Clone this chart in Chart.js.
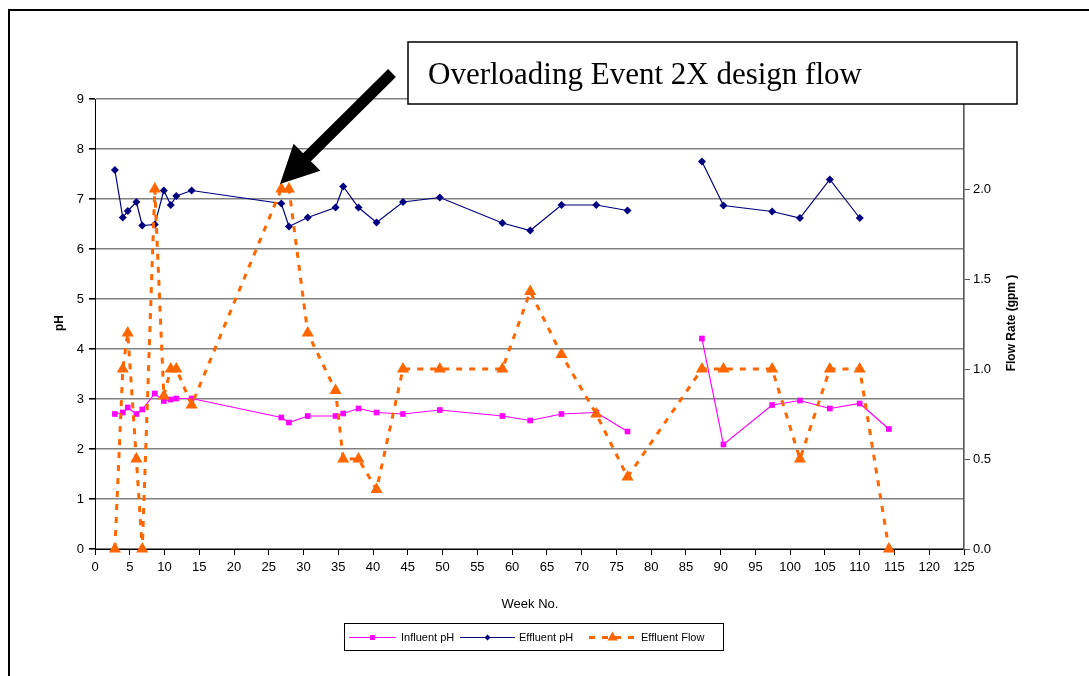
<!DOCTYPE html>
<html>
<head>
<meta charset="utf-8">
<script src="https://cdn.jsdelivr.net/npm/chart.js@4.4.1/dist/chart.umd.min.js"></script>
<style>
  html, body { margin: 0; padding: 0; background: #fff; }
  #wrap { position: relative; width: 1089px; height: 676px; overflow: hidden; }
  #frame { position: absolute; left: 8px; top: 9px; width: 1200px; height: 800px; border: 2px solid #000; box-sizing: border-box; }
  canvas { position: absolute; left: 0; top: 0; }
</style>
</head>
<body>
<div id="wrap">
  <div id="frame"></div>
  <canvas id="c" width="1089" height="676"></canvas>
</div>
<script>
// Sampling weeks shared by all three series (null = no reading that week)
const weeks = [2.86, 4.0, 4.71, 5.95, 6.8, 8.6, 9.9, 10.9, 11.7, 13.9,
  26.8, 27.9, 30.6, 34.6, 35.7, 37.9, 40.5, 44.3, 49.6, 58.6,
  62.6, 67.1, 72.1, 76.6, 82.0, 87.3, 90.4, 97.4, 101.4, 105.7, 110.0, 114.2];

const influentPH = [2.70, 2.73, 2.83, 2.70, 2.79, 3.11, 2.96, 2.99, 3.01, 3.01,
  2.63, 2.53, 2.66, 2.66, 2.71, 2.81, 2.73, 2.70, 2.78, 2.66,
  2.57, 2.70, 2.73, 2.35, null, 4.21, 2.09, 2.88, 2.97, 2.81, 2.91, 2.40];

const effluentPH = [7.58, 6.63, 6.76, 6.94, 6.47, 6.49, 7.17, 6.88, 7.06, 7.17,
  6.91, 6.45, 6.63, 6.83, 7.25, 6.83, 6.53, 6.94, 7.03, 6.52,
  6.37, 6.88, 6.88, 6.77, null, 7.75, 6.87, 6.75, 6.62, 7.39, 6.62, null];

const effluentFlow = [0, 1.0, 1.2, 0.5, 0, 2.0, 0.85, 1.0, 1.0, 0.8,
  2.0, 2.0, 1.2, 0.88, 0.5, 0.5, 0.33, 1.0, 1.0, 1.0,
  1.43, 1.08, 0.75, 0.4, null, 1.0, 1.0, 1.0, 0.5, 1.0, 1.0, 0];

const seriesNames = ['Influent pH', 'Effluent pH', 'Effluent Flow'];
const xTicks = { min: 0, max: 125, step: 5 };
const phTicks = { min: 0, max: 9, step: 1 };
const flowTicks = { min: 0, max: 2.5, step: 0.5 };
const noteText = 'Overloading Event 2X design flow';

const PINK = '#FF00FF', NAVY = '#000080', ORANGE = '#FF6600';
const SANS = '"Liberation Sans", Arial, sans-serif';

const toPoints = vals => weeks.map((w, i) => ({ x: w, y: vals[i] }));

// Axis titles, legend box and the callout with its arrow
const decorations = {
  id: 'decorations',
  afterDraw(chart) {
    const ctx = chart.ctx;
    ctx.save();
    ctx.fillStyle = '#000';
    // axis titles
    ctx.font = 'bold 12px ' + SANS;
    ctx.textAlign = 'center';
    ctx.textBaseline = 'middle';
    ctx.save(); ctx.translate(60, 323); ctx.rotate(-Math.PI / 2); ctx.fillText('pH', 0, 0); ctx.restore();
    ctx.save(); ctx.translate(1012, 323); ctx.rotate(-Math.PI / 2); ctx.fillText('Flow Rate (gpm )', 0, 0); ctx.restore();
    ctx.font = '13px ' + SANS;
    ctx.fillText('Week No.', 530, 604);

    // legend
    const lx = 344, ly = 623, lw = 379, lh = 27;
    ctx.lineWidth = 1;
    ctx.strokeStyle = '#000';
    ctx.strokeRect(lx + 0.5, ly + 0.5, lw, lh);
    const cy = ly + lh / 2 + 1;
    ctx.font = '11px ' + SANS;
    ctx.textAlign = 'left';
    const items = [
      { x0: 349, x1: 396, tx: 401, color: PINK, dash: [], lw: 1, marker: 'rect' },
      { x0: 460, x1: 515, tx: 519, color: NAVY, dash: [], lw: 1, marker: 'diamond' },
      { x0: 589, x1: 636, tx: 641, color: ORANGE, dash: [6, 7], lw: 3, marker: 'tri' }
    ];
    items.forEach((it, i) => {
      ctx.strokeStyle = it.color;
      ctx.lineWidth = it.lw;
      ctx.setLineDash(it.dash);
      ctx.beginPath(); ctx.moveTo(it.x0, cy); ctx.lineTo(it.x1, cy); ctx.stroke();
      ctx.setLineDash([]);
      const mx = (it.x0 + it.x1) / 2;
      ctx.fillStyle = it.color;
      if (it.marker === 'rect') ctx.fillRect(mx - 2.5, cy - 2.5, 5, 5);
      else if (it.marker === 'diamond') {
        ctx.beginPath(); ctx.moveTo(mx, cy - 3); ctx.lineTo(mx + 3, cy); ctx.lineTo(mx, cy + 3); ctx.lineTo(mx - 3, cy); ctx.closePath(); ctx.fill();
      } else {
        ctx.beginPath(); ctx.moveTo(mx, cy - 6); ctx.lineTo(mx + 5, cy + 3); ctx.lineTo(mx - 5, cy + 3); ctx.closePath(); ctx.fill();
      }
      ctx.fillStyle = '#000';
      ctx.fillText(seriesNames[i], it.tx, cy + 0.5);
    });

    // callout box
    ctx.fillStyle = '#fff';
    ctx.fillRect(408, 42, 609, 62);
    ctx.strokeStyle = '#000';
    ctx.lineWidth = 1.5;
    ctx.strokeRect(408, 42, 609, 62);
    ctx.fillStyle = '#000';
    ctx.font = '31px "Liberation Serif", "Times New Roman", serif';
    ctx.textAlign = 'left';
    ctx.textBaseline = 'alphabetic';
    ctx.fillText(noteText, 428, 84);

    // arrow pointing at the overload peak
    const tail = { x: 392, y: 73 }, tip = { x: 280, y: 184 };
    const ang = Math.atan2(tip.y - tail.y, tip.x - tail.x);
    const headLen = 38, headHalf = 19, shaftHalf = 5.5;
    const bx = tip.x - headLen * Math.cos(ang), by = tip.y - headLen * Math.sin(ang);
    const px = -Math.sin(ang), py = Math.cos(ang);
    ctx.beginPath();
    ctx.moveTo(tail.x + px * shaftHalf, tail.y + py * shaftHalf);
    ctx.lineTo(bx + px * shaftHalf, by + py * shaftHalf);
    ctx.lineTo(bx + px * headHalf, by + py * headHalf);
    ctx.lineTo(tip.x, tip.y);
    ctx.lineTo(bx - px * headHalf, by - py * headHalf);
    ctx.lineTo(bx - px * shaftHalf, by - py * shaftHalf);
    ctx.lineTo(tail.x - px * shaftHalf, tail.y - py * shaftHalf);
    ctx.closePath();
    ctx.fill();
    ctx.restore();
  }
};

new Chart(document.getElementById('c'), {
  type: 'line',
  data: {
    datasets: [
      {
        label: seriesNames[0], data: toPoints(influentPH), yAxisID: 'y',
        borderColor: PINK, backgroundColor: PINK, borderWidth: 1.2,
        pointStyle: 'rect', pointRadius: 4, pointBorderWidth: 0,
        spanGaps: false, tension: 0, order: 2
      },
      {
        label: seriesNames[1], data: toPoints(effluentPH), yAxisID: 'y',
        borderColor: NAVY, backgroundColor: NAVY, borderWidth: 1.2,
        pointStyle: 'rectRot', pointRadius: 4, pointBorderWidth: 0,
        spanGaps: false, tension: 0, order: 1
      },
      {
        label: seriesNames[2], data: toPoints(effluentFlow), yAxisID: 'y1',
        borderColor: ORANGE, backgroundColor: ORANGE, borderWidth: 3,
        borderDash: [6, 7],
        pointStyle: 'triangle', pointRadius: 7, pointBorderWidth: 0,
        spanGaps: true, tension: 0, order: 0, clip: false
      }
    ]
  },
  options: {
    responsive: false,
    animation: false,
    events: [],
    layout: { padding: { left: 0, right: 0, top: 99, bottom: 0 } },
    plugins: { legend: { display: false }, tooltip: { enabled: false } },
    scales: {
      x: {
        type: 'linear', min: xTicks.min, max: xTicks.max,
        ticks: { stepSize: xTicks.step, color: '#000', font: { family: SANS, size: 13 }, padding: 5, maxRotation: 0, autoSkip: false },
        grid: { drawOnChartArea: false, drawTicks: true, tickLength: 6, color: '#000', tickColor: '#000' },
        border: { color: '#000', width: 1 },
        afterFit: s => { s.height = 676 - 549; }
      },
      y: {
        position: 'left', min: phTicks.min, max: phTicks.max,
        ticks: { stepSize: phTicks.step, color: '#000', font: { family: SANS, size: 13 }, padding: 5 },
        grid: { color: '#808080', lineWidth: 1.6, tickLength: 6, tickColor: '#000' },
        border: { color: '#000', width: 1 },
        afterFit: s => { s.width = 95; }
      },
      y1: {
        position: 'right', min: flowTicks.min, max: flowTicks.max,
        ticks: { stepSize: flowTicks.step, color: '#000', font: { family: SANS, size: 13 }, padding: 3,
          callback: v => Number(v).toFixed(1) },
        grid: { drawOnChartArea: false, tickLength: 6, tickColor: '#555' },
        border: { color: '#555', width: 1.6 },
        afterFit: s => { s.width = 1089 - 964; }
      }
    }
  },
  plugins: [decorations]
});
</script>
</body>
</html>
